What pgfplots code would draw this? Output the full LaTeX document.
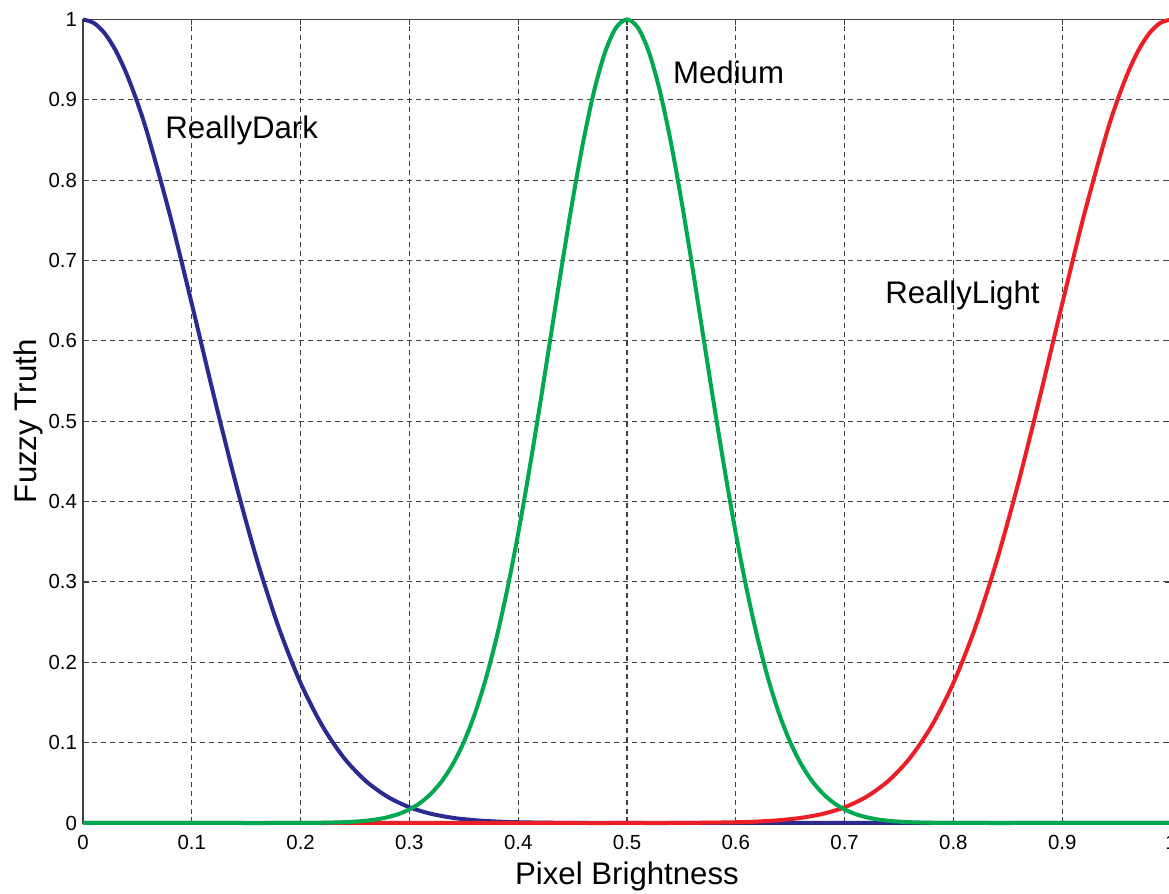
\documentclass[border=0pt]{standalone}
\usepackage{pgfplots}
\pgfplotsset{compat=1.18}
\usepackage{fontspec}
\setmainfont{Liberation Sans}
\definecolor{cblue}{RGB}{42,42,145}
\definecolor{cgreen}{RGB}{0,168,80}
\definecolor{cred}{RGB}{236,30,38}
\newcommand\lab{\fontsize{15.6pt}{18pt}\selectfont}
\begin{document}
\begin{tikzpicture}
\begin{axis}[
  scale only axis,
  width=544pt, height=401.75pt,
  xmin=0, xmax=1, ymin=0, ymax=1,
  xtick={0,0.1,...,1.01}, ytick={0,0.1,...,1.01},
  xticklabels={0,0.1,0.2,0.3,0.4,0.5,0.6,0.7,0.8,0.9,1},
  yticklabels={0,0.1,0.2,0.3,0.4,0.5,0.6,0.7,0.8,0.9,1},
  tick align=inside,
  major tick length=3pt,
  tick style={black!75, line width=0.6pt},
  axis line style={black!75, line width=0.7pt},
  grid=major,
  major grid style={black!75, line width=0.55pt, dash pattern=on 2.5pt off 2pt},
  ticklabel style={font=\fontsize{10.2pt}{12pt}\selectfont},
  xticklabel style={yshift=-2.7pt},
  yticklabel style={xshift=0.5pt},
  xlabel={Pixel Brightness},
  ylabel={Fuzzy Truth},
  x label style={at={(axis description cs:0.5,-0.0770)}, anchor=base, inner sep=0pt, font=\lab},
  y label style={at={(axis description cs:-0.0423,0.5)}, rotate=0, anchor=base, inner sep=0pt, font=\lab},
  clip=false,
  every axis plot/.append style={line width=2pt, smooth, tension=0.5},
]
\addplot[cblue] coordinates {
(0,1) (0.01,0.9956) (0.02,0.9827) (0.03,0.9615) (0.04,0.9325) (0.05,0.8966) (0.06,0.8545) (0.08,0.7562) (0.10,0.6461)
(0.12,0.5332) (0.14,0.4249) (0.16,0.3270) (0.18,0.2429) (0.20,0.1743)
(0.22,0.1208) (0.24,0.0808) (0.26,0.0522) (0.28,0.0326) (0.30,0.0196)
(0.32,0.0114) (0.34,0.0064) (0.36,0.0035) (0.38,0.0018) (0.40,0.0009)
(0.42,0.0005) (0.44,0.0002) (0.46,0.0001) (0.50,0) (0.60,0) (0.80,0) (1.00,0)
};
\addplot[cred] coordinates {
(0,0) (0.20,0) (0.40,0) (0.50,0) (0.54,0.0001) (0.56,0.0002) (0.58,0.0005)
(0.60,0.0009) (0.62,0.0018) (0.64,0.0035) (0.66,0.0064) (0.68,0.0114)
(0.70,0.0196) (0.72,0.0326) (0.74,0.0522) (0.76,0.0808) (0.78,0.1208)
(0.80,0.1743) (0.82,0.2429) (0.84,0.3270) (0.86,0.4249) (0.88,0.5332)
(0.90,0.6461) (0.92,0.7562) (0.94,0.8545) (0.95,0.8966) (0.96,0.9325) (0.97,0.9615) (0.98,0.9827) (0.99,0.9956) (1.00,1)
};
\addplot[cgreen] coordinates {
(0,0) (0.10,0) (0.18,0) (0.20,0.0001) (0.22,0.0003) (0.24,0.0010) (0.25,0.0017)
(0.26,0.0028) (0.27,0.0045) (0.28,0.0072) (0.29,0.0111) (0.30,0.0169)
(0.31,0.0251) (0.32,0.0367) (0.33,0.0524) (0.34,0.0734) (0.35,0.1007)
(0.36,0.1353) (0.37,0.1783) (0.38,0.2301) (0.39,0.2909) (0.40,0.3604)
(0.41,0.4376) (0.42,0.5204) (0.43,0.6065) (0.44,0.6926) (0.45,0.7748)
(0.46,0.8494) (0.47,0.9123) (0.48,0.9600) (0.49,0.9899) (0.50,1)
(0.51,0.9899) (0.52,0.9600) (0.53,0.9123) (0.54,0.8494) (0.55,0.7748)
(0.56,0.6926) (0.57,0.6065) (0.58,0.5204) (0.59,0.4376) (0.60,0.3604)
(0.61,0.2909) (0.62,0.2301) (0.63,0.1783) (0.64,0.1353) (0.65,0.1007)
(0.66,0.0734) (0.67,0.0524) (0.68,0.0367) (0.69,0.0251) (0.70,0.0169)
(0.71,0.0111) (0.72,0.0072) (0.73,0.0045) (0.74,0.0028) (0.75,0.0017)
(0.76,0.0010) (0.78,0.0003) (0.80,0.0001) (0.82,0) (0.90,0) (1.00,0)
};
\node[anchor=base west, inner sep=0pt, font=\lab] at (axis cs:0.0754,0.852) {ReallyDark};
\node[anchor=base west, inner sep=0pt, font=\lab] at (axis cs:0.542,0.920) {Medium};
\node[anchor=base west, inner sep=0pt, font=\lab] at (axis cs:0.737,0.646) {ReallyLight};
\end{axis}
\pgfresetboundingbox
\path[use as bounding box] ([xshift=-41.5pt,yshift=-35.5pt]current axis.south west) rectangle ([xshift=-1pt,yshift=9.75pt]current axis.north east);
\end{tikzpicture}
\end{document}
